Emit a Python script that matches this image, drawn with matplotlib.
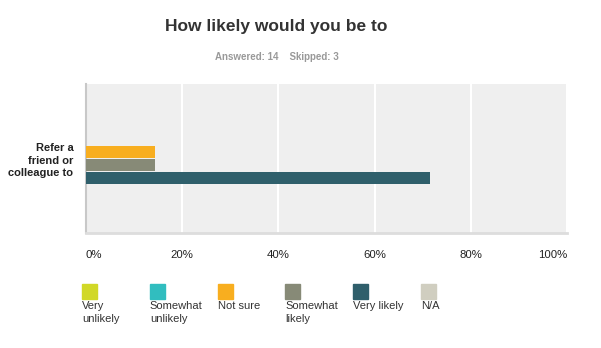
import numpy as np
import matplotlib.pyplot as plt
from matplotlib.patches import Rectangle

plt.rcParams["font.family"] = ["Liberation Sans", "DejaVu Sans"]

# survey results (share of respondents, %)
question = "Refer a\nfriend or\ncolleague to"
answers = ["Very\nunlikely", "Somewhat\nunlikely", "Not sure", "Somewhat\nlikely", "Very likely", "N/A"]
shares = [0, 0, 14.29, 14.29, 71.43, 0]
colors = ["#D1D827", "#31BDBF", "#F8AE1F", "#878A77", "#2F5F6B", "#D0CEC0"]
ticks = [0, 20, 40, 60, 80, 100]
tick_labels = ["0%", "20%", "40%", "60%", "80%", "100%"]

W, H = 601, 348
fig = plt.figure(figsize=(W / 100, H / 100), dpi=100)

# plot area in pixels: x 86..567, y 84..233
ax = fig.add_axes([86 / W, 1 - 233 / H, 481 / W, 149 / H])
ax.set_facecolor("#EFEFEF")

step = 13 / 149
height = 12 / 149
for i, (val, col) in enumerate(zip(shares, colors)):
    ax.barh((i - 2.5) * step, val, height=height, color=col, zorder=3)

ax.set_xlim(0, 100)
ax.set_ylim(0.5, -0.5)
ax.set_xticks(ticks)
ax.set_xticklabels(tick_labels, fontsize=8.2, color="#222222")
labels = ax.get_xticklabels()
labels[0].set_ha("left")
labels[-1].set_ha("right")
ax.tick_params(axis="x", length=0, pad=12)

ax.set_yticks([0])
ax.set_yticklabels([question], fontsize=8, fontweight="bold", color="#222222",
                   linespacing=1.3)
ax.tick_params(axis="y", length=0, pad=9)

ax.grid(axis="x", color="white", linewidth=1.5, zorder=1)
ax.set_axisbelow(True)
for side in ["top", "right"]:
    ax.spines[side].set_visible(False)
ax.spines["left"].set_color("#C8C8C8")
ax.spines["left"].set_linewidth(1.5)
ax.spines["bottom"].set_color("#DDDDDD")
ax.spines["bottom"].set_linewidth(2)

# title and response counts
fig.text(276.5 / W, 1 - 26 / H, "How likely would you be to", ha="center", va="center",
         fontsize=12.5, fontweight="bold", color="#333333")
fig.text(276.5 / W, 1 - 57 / H, "Answered: 14    Skipped: 3", ha="center", va="center",
         fontsize=7, fontweight="bold", color="#999999")

# legend: swatch with label underneath
x0, dx = 82, 67.8
for i, (name, col) in enumerate(zip(answers, colors)):
    x = x0 + i * dx
    fig.patches.append(Rectangle((x / W, 1 - 299 / H), 15 / W, 15 / H,
                                 transform=fig.transFigure, color=col))
    fig.text(x / W, 1 - 301 / H, name, ha="left", va="top", fontsize=8,
             color="#333333", linespacing=1.4)

fig.savefig("out.png", dpi=100)
